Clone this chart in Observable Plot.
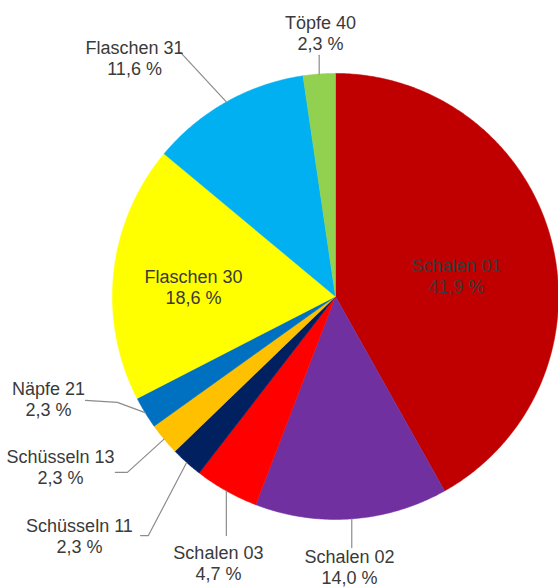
<!DOCTYPE html>
<html>
<head>
<meta charset="utf-8">
<script src="https://cdn.jsdelivr.net/npm/d3@7"></script>
<script src="https://cdn.jsdelivr.net/npm/@observablehq/plot@0.6"></script>
<style>
  html, body { margin: 0; padding: 0; background: #fff; }
  #chart svg { display: block; }
</style>
</head>
<body>
<div id="chart"></div>
<script>
// ---- data ----
const categories = ["Schalen 01", "Schalen 02", "Schalen 03", "Schüsseln 11", "Schüsseln 13", "Näpfe 21", "Flaschen 30", "Flaschen 31", "Töpfe 40"];
const counts = [18, 6, 2, 1, 1, 1, 8, 5, 1];
const percentLabels = ["41,9 %", "14,0 %", "4,7 %", "2,3 %", "2,3 %", "2,3 %", "18,6 %", "11,6 %", "2,3 %"];
const colors = ["#C00000", "#7030A0", "#FF0000", "#002060", "#FFC000", "#0070C0", "#FFFF00", "#00B0F0", "#92D050"];

// ---- layout (in units of the pie radius, centre at 0,0) ----
const labelLayout = {
  "Schalen 01":   {at: [0.543, 0.094]},
  "Flaschen 30":  {at: [-0.637, 0.045]},
  "Töpfe 40":     {at: [-0.067, 1.182], leader: [[null, 1.081]]},
  "Flaschen 31":  {at: [-0.901, 1.070], leader: [[-0.695, 1.094]]},
  "Näpfe 21":     {at: [-1.287, -0.457], leader: [[-0.978, -0.475], [-1.121, -0.466]]},
  "Schüsseln 13": {at: [-1.233, -0.765], leader: [[-0.933, -0.789], [-0.987, -0.789]]},
  "Schüsseln 11": {at: [-1.148, -1.072], leader: [[-0.839, -1.072], [-0.874, -1.072]]},
  "Schalen 03":   {at: [-0.525, -1.195], leader: [[null, -1.072]]},
  "Schalen 02":   {at: [0.063, -1.211], leader: [[null, -1.126]]}
};

// ---- geometry from data ----
const table = categories.map((c, i) => ({category: c, count: counts[i], pct: percentLabels[i], color: colors[i]}));
const arcs = d3.pie().sort(null).value(d => d.count)(table);

const polyPts = [];
arcs.forEach(a => {
  polyPts.push({key: a.data.category, x: 0, y: 0, color: a.data.color});
  const n = Math.max(4, Math.ceil((a.endAngle - a.startAngle) / 0.01));
  for (let k = 0; k <= n; k++) {
    const t = a.startAngle + (a.endAngle - a.startAngle) * k / n;
    polyPts.push({key: a.data.category, x: Math.sin(t), y: Math.cos(t), color: a.data.color});
  }
  polyPts.push({key: a.data.category, x: 0, y: 0, color: a.data.color});
});

const labels = [];
const leaderPts = [];
arcs.forEach(a => {
  const lay = labelLayout[a.data.category];
  labels.push({x: lay.at[0], y: lay.at[1], text: a.data.category + "\n" + a.data.pct});
  if (lay.leader) {
    const mid = (a.startAngle + a.endAngle) / 2;
    const sx = Math.sin(mid), sy = Math.cos(mid);
    leaderPts.push({key: a.data.category, x: sx, y: sy});
    lay.leader.forEach(p => leaderPts.push({key: a.data.category, x: p[0] == null ? sx : p[0], y: p[1]}));
  }
});

const chart = Plot.plot({
  width: 558,
  height: 587,
  margin: 0,
  x: {domain: [-1.502, 1.0], axis: null},
  y: {domain: [-1.305, 1.327], axis: null},
  style: {fontFamily: "Arial, 'Liberation Sans', sans-serif", background: "#fff"},
  marks: [
    Plot.line(polyPts, {x: "x", y: "y", z: "key", fill: "color", stroke: "color", strokeWidth: 0.5, curve: "linear"}),
    Plot.line(leaderPts, {x: "x", y: "y", z: "key", stroke: "#8c8c8c", strokeWidth: 1.2}),
    Plot.text(labels, {x: "x", y: "y", text: "text", fontSize: 18, fill: "#3a3a3a", lineAnchor: "middle", lineHeight: 1.17, textAnchor: "middle"})
  ]
});
document.getElementById("chart").appendChild(chart);
</script>
</body>
</html>
